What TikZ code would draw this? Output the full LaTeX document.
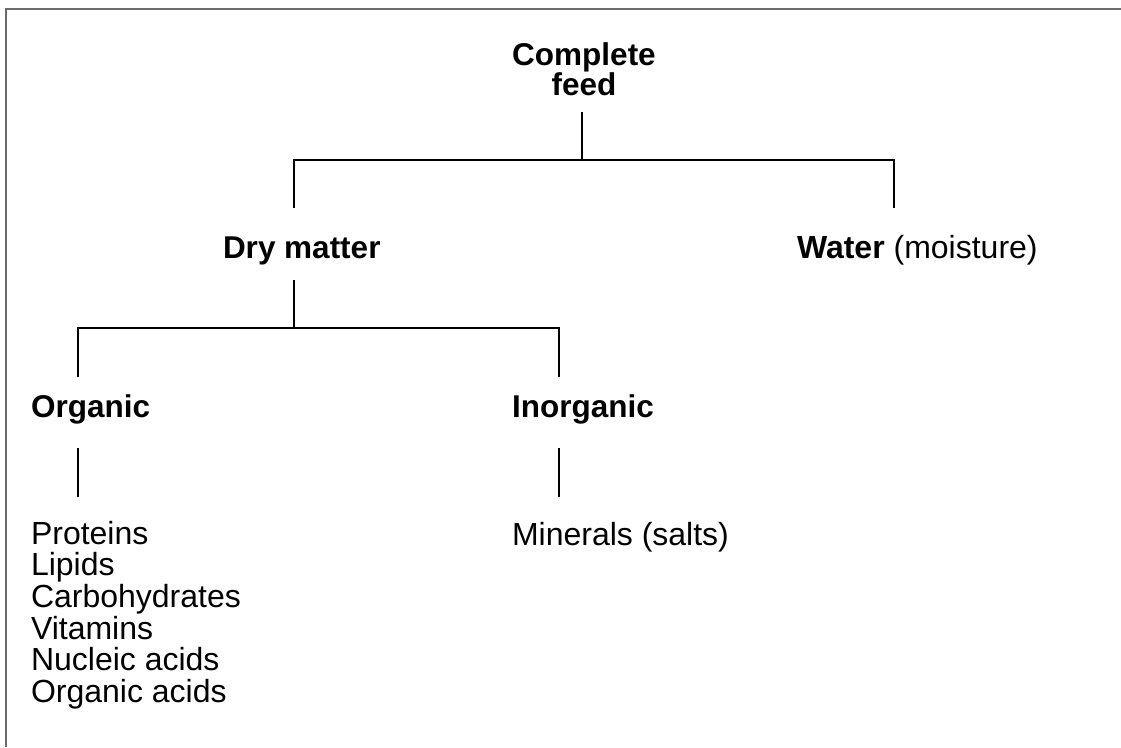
\documentclass[tikz,border=0pt]{standalone}
\usepackage{fontspec}
\setmainfont{Liberation Sans}
\begin{document}
\begin{tikzpicture}[x=1pt,y=-1pt,
  lbl/.style={inner sep=0pt,outer sep=0pt,font=\fontsize{32}{31.7}\selectfont},
  hd/.style={lbl,font=\fontsize{31.5}{30}\selectfont\bfseries},
  conn/.style={line width=1.6pt,black},
  frame/.style={line width=2pt,color=black!58}]
\useasboundingbox (0,0) rectangle (1121,747);
\draw[frame] (6,747) -- (6,9) -- (1121,9);
% texts
\node[hd,align=center,anchor=base] (cf) at (584,95) {Complete\\feed};
\node[hd,anchor=base west] (dm) at (223,258) {Dry matter};
\node[lbl,anchor=base west] (wa) at (797,258) {\textbf{Water} (moisture)};
\node[hd,anchor=base west] (org) at (31,417) {Organic};
\node[hd,anchor=base west] (inorg) at (512,417) {Inorganic};
\node[lbl,align=left,anchor=north west] (orglist) at (31,521) {Proteins\\Lipids\\Carbohydrates\\Vitamins\\Nucleic acids\\Organic acids};
\node[lbl,anchor=base west] (min) at (512,545) {Minerals (salts)};
% connector points
\coordinate (cfB) at (582,112);
\coordinate (j1) at (582,160);
\coordinate (dmT) at (294,208);
\coordinate (waT) at (894,208);
\coordinate (dmB) at (294,280);
\coordinate (j2) at (294,328);
\coordinate (orgT) at (78,377);
\coordinate (inT) at (559,377);
\coordinate (orgB) at (78,448);
\coordinate (orgL) at (78,497);
\coordinate (inB) at (559,448);
\coordinate (inL) at (559,497);
\draw[conn] (cfB) -- (j1);
\draw[conn] (dmT) |- (j1) -| (waT);
\draw[conn] (dmB) -- (j2);
\draw[conn] (orgT) |- (j2) -| (inT);
\draw[conn] (orgB) -- (orgL);
\draw[conn] (inB) -- (inL);
\end{tikzpicture}
\end{document}
